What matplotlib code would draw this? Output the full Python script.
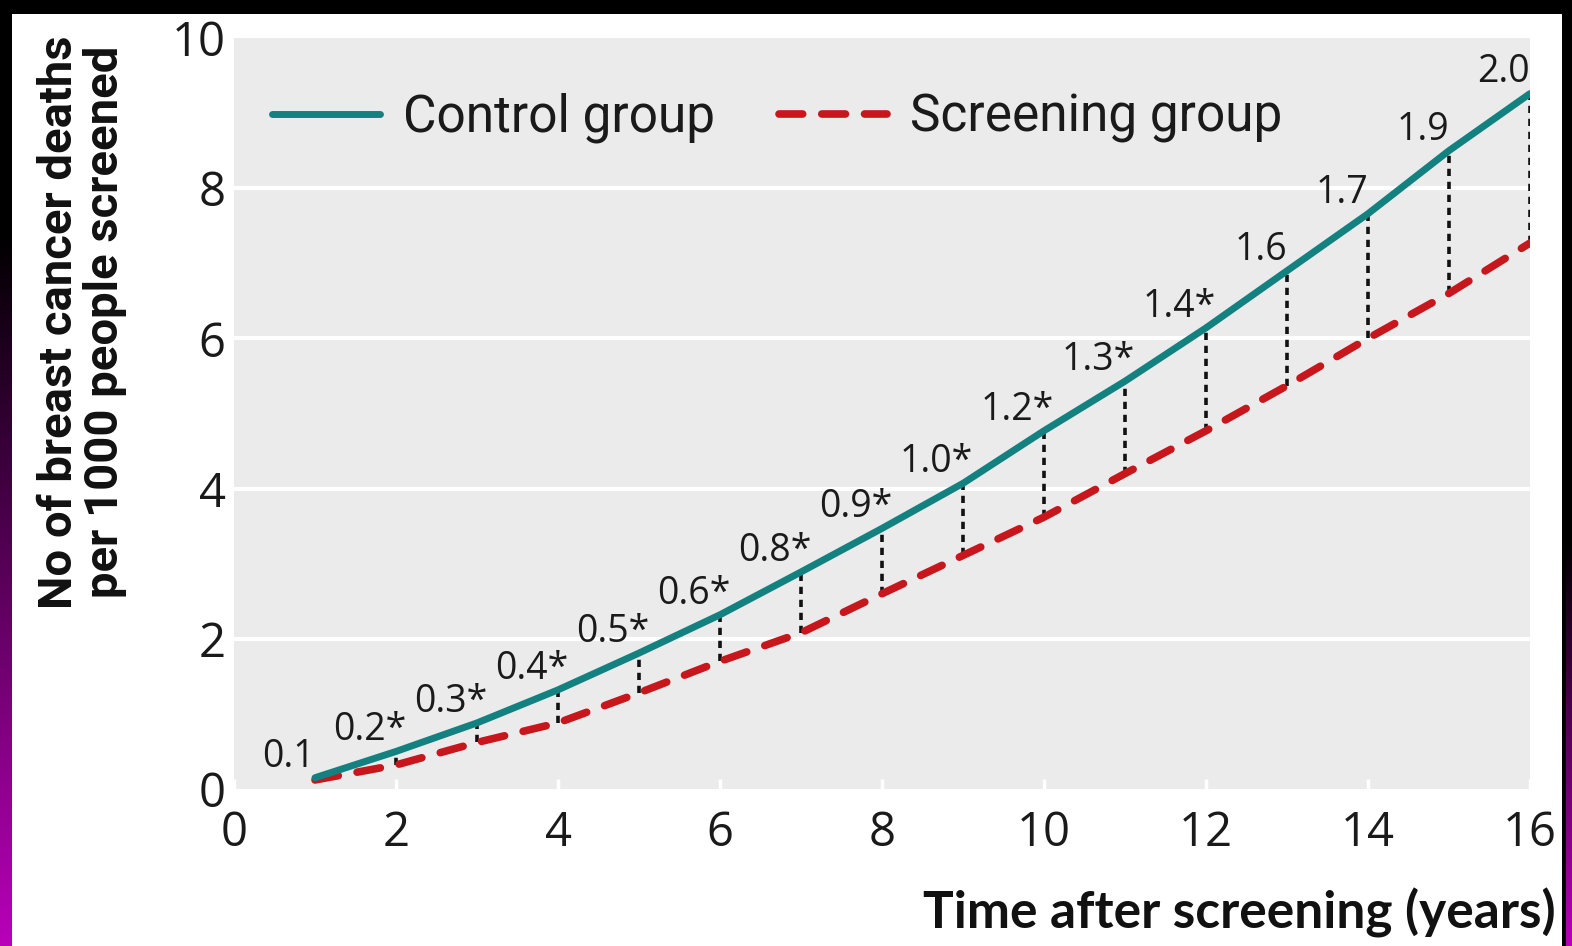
import numpy as np
import matplotlib
matplotlib.use("Agg")
import matplotlib.pyplot as plt
from matplotlib import font_manager as fm
from matplotlib.patches import Rectangle

# ---- data ----
years = [1, 2, 3, 4, 5, 6, 7, 8, 9, 10, 11, 12, 13, 14, 15, 16]
control = [0.15, 0.50, 0.88, 1.32, 1.81, 2.32, 2.89, 3.47, 4.07, 4.77, 5.43, 6.14, 6.90, 7.66, 8.50, 9.26]
screening = [0.12, 0.32, 0.62, 0.88, 1.28, 1.70, 2.08, 2.60, 3.11, 3.62, 4.20, 4.77, 5.37, 6.00, 6.60, 7.27]
diff_labels = ["0.1", "0.2*", "0.3*", "0.4*", "0.5*", "0.6*", "0.8*", "0.9*", "1.0*",
               "1.2*", "1.3*", "1.4*", "1.6", "1.7", "1.9", "2.0"]
xticks = [0, 2, 4, 6, 8, 10, 12, 14, 16]
yticks = [0, 2, 4, 6, 8, 10]
series_names = ["Control group", "Screening group"]
x_label = "Time after screening (years)"
y_label = "No of breast cancer deaths\nper 1000 people screened"

avail = {f.name for f in fm.fontManager.ttflist}
def pick(*names):
    for n in names:
        if n in avail:
            return n
    return "DejaVu Sans"
F_NUM = pick("Open Sans", "Lato", "DejaVu Sans")
F_NARROW = pick("Liberation Sans Narrow", "Roboto", "DejaVu Sans")
F_BOLD = pick("Lato", "Open Sans", "DejaVu Sans")

W, H = 1572, 946
fig = plt.figure(figsize=(W / 100, H / 100), dpi=100, facecolor="black")

# background frame
bg = fig.add_axes([0, 0, 1, 1], zorder=-10)
bg.set_xlim(0, W); bg.set_ylim(H, 0); bg.axis("off")
bg.add_patch(Rectangle((12, 14), 1550, H - 14, facecolor="white", edgecolor="none"))
grad = np.linspace(0, 1, 300)[:, None]
cmap = matplotlib.colors.LinearSegmentedColormap.from_list("mg", ["black", "#b800b8"])
bg.imshow(grad, extent=(0, 12, H, 230), cmap=cmap, aspect="auto")
bg.imshow(grad, extent=(1566, W, H, 540), cmap=cmap, aspect="auto")

def fx(px): return px / W
def fy(py): return 1 - py / H

ax = fig.add_axes([fx(234), fy(789), fx(1530) - fx(234), fy(38) - fy(789)])
ax.set_facecolor("#ebebeb")
ax.set_xlim(0, 16)
ax.set_ylim(0, 10)
for s in ax.spines.values():
    s.set_visible(False)
ax.set_yticks(yticks)
ax.set_xticks(xticks)
for y in yticks[1:-1]:
    ax.axhline(y, color="white", lw=3, zorder=1)
ax.tick_params(axis="x", direction="in", length=7, width=2.5, color="white",
               pad=15, labelsize=34, labelcolor="#1a1a1a")
ax.tick_params(axis="y", length=0, pad=6, labelsize=34, labelcolor="#1a1a1a")
for lab in ax.get_xticklabels() + ax.get_yticklabels():
    lab.set_fontfamily(F_NUM)

# dotted connectors
for x, c, s in zip(years[1:], control[1:], screening[1:]):
    ax.plot([x, x], [s, c], color="#111111", lw=2.6, linestyle=(0, (2.0, 1.6)), zorder=2)

ln_c, = ax.plot(years, control, color="#13817f", lw=5, solid_capstyle="round",
                zorder=4, label=series_names[0])
ln_s, = ax.plot(years, screening, color="#c8161d", lw=5.5, dashes=(3.1, 2.5),
                dash_capstyle="round", zorder=3, label=series_names[1])

for x, c, t in zip(years, control, diff_labels):
    ax.annotate(t, xy=(x, c), xytext=(-19, 8), textcoords="offset points",
                ha="center", va="baseline", fontsize=27, color="#1a1a1a",
                fontfamily=F_NUM, zorder=5)

leg = fig.legend(handles=[ln_c, ln_s], loc="center left",
                 bbox_to_anchor=(fx(272), fy(118)), ncol=2, frameon=False,
                 prop={"family": F_NARROW, "size": 37}, handlelength=2.1,
                 handletextpad=0.45, columnspacing=1.25, borderpad=0, borderaxespad=0)
for t in leg.get_texts():
    t.set_color("#1a1a1a")

fig.text(fx(82), fy(322), y_label, rotation=90, ha="center", va="center",
         fontsize=34, fontweight="bold", fontfamily=F_NARROW, color="#111111",
         linespacing=1.05, multialignment="center")
fig.text(fx(1556), fy(913), x_label, ha="right", va="center",
         fontsize=37, fontweight="bold", fontfamily=F_BOLD, color="#111111")

fig.savefig("out.png", dpi=100, facecolor="black")
